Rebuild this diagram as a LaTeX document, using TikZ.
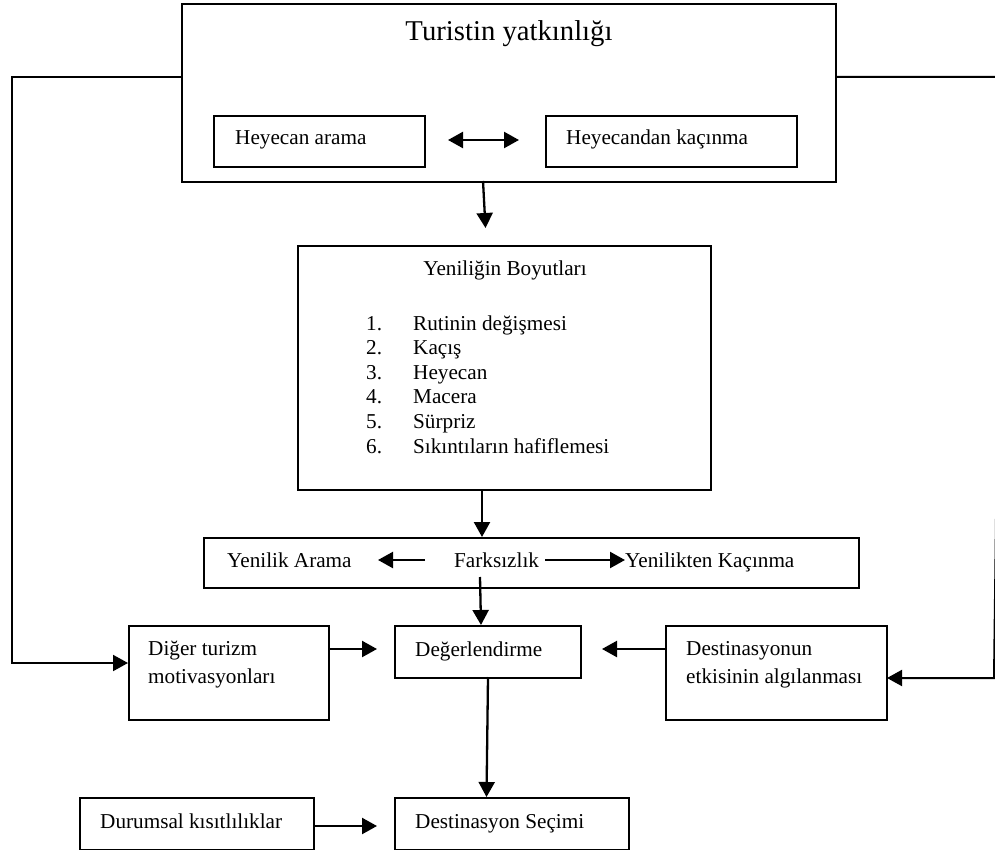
\documentclass[tikz,border=0pt]{standalone}
\usepackage{fontspec}
\setmainfont{Liberation Serif}
\usetikzlibrary{arrows.meta}
\begin{document}
\begin{tikzpicture}[x=1pt,y=-1pt,
  box/.style={draw, line width=2pt, inner sep=0pt, anchor=north west},
  txt/.style={inner sep=0pt, anchor=base west, font=\fontsize{21.2}{25}\selectfont},
  conn/.style={line width=2.3pt, -{Triangle[length=15pt,width=16pt]}},
  plain/.style={line width=2pt}]
\useasboundingbox (0,0) rectangle (995,850);
% boxes
\node[box, minimum width=654pt, minimum height=178pt] (top) at (181,3) {};
\node[box, minimum width=211pt, minimum height=51pt] (ha) at (213,115) {};
\node[box, minimum width=251pt, minimum height=51pt] (hk) at (545,115) {};
\node[box, minimum width=413pt, minimum height=244pt] (yb) at (297,245) {};
\node[box, minimum width=655pt, minimum height=50pt] (row) at (203,537) {};
\node[box, minimum width=200pt, minimum height=94pt] (dt) at (128,625) {};
\node[box, minimum width=186pt, minimum height=52pt] (de) at (394,625) {};
\node[box, minimum width=221pt, minimum height=94pt] (da) at (665,625) {};
\node[box, minimum width=234pt, minimum height=52pt] (ds) at (394,797) {};
\node[box, minimum width=234pt, minimum height=52pt] (dk) at (79,797) {};
% texts
\node[inner sep=0pt, anchor=base, font=\fontsize{28.7}{32}\selectfont] (title) at (509,41) {Turistin yatkınlığı};
\node[txt] (tha) at (235,145) {Heyecan arama};
\node[txt] (thk) at (566,145) {Heyecandan kaçınma};
\node[txt, anchor=base] (tyb) at (505,275) {Yeniliğin Boyutları};
\foreach \i/\t in {1/Rutinin değişmesi,2/Kaçış,3/Heyecan,4/Macera,5/Sürpriz,6/Sıkıntıların hafiflemesi}{
  \node[txt] (n\i) at (366,{330+(\i-1)*24.6}) {\i.};
  \node[txt] (l\i) at (413,{330+(\i-1)*24.6}) {\t};
}
\node[txt] (ya) at (227,567) {Yenilik Arama};
\node[txt] (fk) at (454,567) {Farksızlık};
\node[txt] (yk) at (625,567) {Yenilikten Kaçınma};
\node[txt] (tde) at (415,656) {Değerlendirme};
\node[txt] (tdt1) at (148,655) {Diğer turizm};
\node[txt] (tdt2) at (148,683) {motivasyonları};
\node[txt] (tda1) at (686,655) {Destinasyonun};
\node[txt] (tda2) at (686,683) {etkisinin algılanması};
\node[txt] (tdk) at (100,828) {Durumsal kısıtlılıklar};
\node[txt] (tds) at (415,828) {Destinasyon Seçimi};
% coordinates
\coordinate (dA) at (448,140);
\coordinate (dB) at (519,140);
\coordinate (t1) at (483,181);
\coordinate (t2) at (485.5,228);
\coordinate (y1) at (482,489);
\coordinate (y2) at (482,537);
\coordinate (aL1) at (425,560);
\coordinate (aL2) at (378,560);
\coordinate (aR1) at (545,560);
\coordinate (aR2) at (625,560);
\coordinate (f1) at (480,577);
\coordinate (f2) at (481,625);
\coordinate (g1) at (328,649);
\coordinate (g2) at (377,649);
\coordinate (h1) at (665,649);
\coordinate (h2) at (602,649);
\coordinate (e1) at (488,677);
\coordinate (e2) at (486.5,797);
\coordinate (k1) at (313,826);
\coordinate (k2) at (377,826);
\coordinate (L0) at (181,77);
\coordinate (L1) at (12,77);
\coordinate (L2) at (12,663);
\coordinate (L3) at (128,663);
\coordinate (R0) at (835,77);
\coordinate (R1) at (1001.5,77);
\coordinate (R2) at (994,678);
\coordinate (R3) at (887,678);
% connectors
\draw[line width=2.3pt, {Triangle[length=15pt,width=16pt]}-{Triangle[length=15pt,width=16pt]}] (dA) -- (dB);
\draw[conn] (t1) -- (t2);
\draw[conn] (y1) -- (y2);
\draw[conn] (aL1) -- (aL2);
\draw[conn] (aR1) -- (aR2);
\draw[conn] (f1) -- (f2);
\draw[conn] (g1) -- (g2);
\draw[conn] (h1) -- (h2);
\draw[conn] (e1) -- (e2);
\draw[conn] (k1) -- (k2);
\draw[conn, line width=2pt] (L0) -- (L1) -- (L2) -- (L3);
\draw[conn, line width=2pt] (R0) -- (R1) -- (R2) -- (R3);
\end{tikzpicture}
\end{document}
